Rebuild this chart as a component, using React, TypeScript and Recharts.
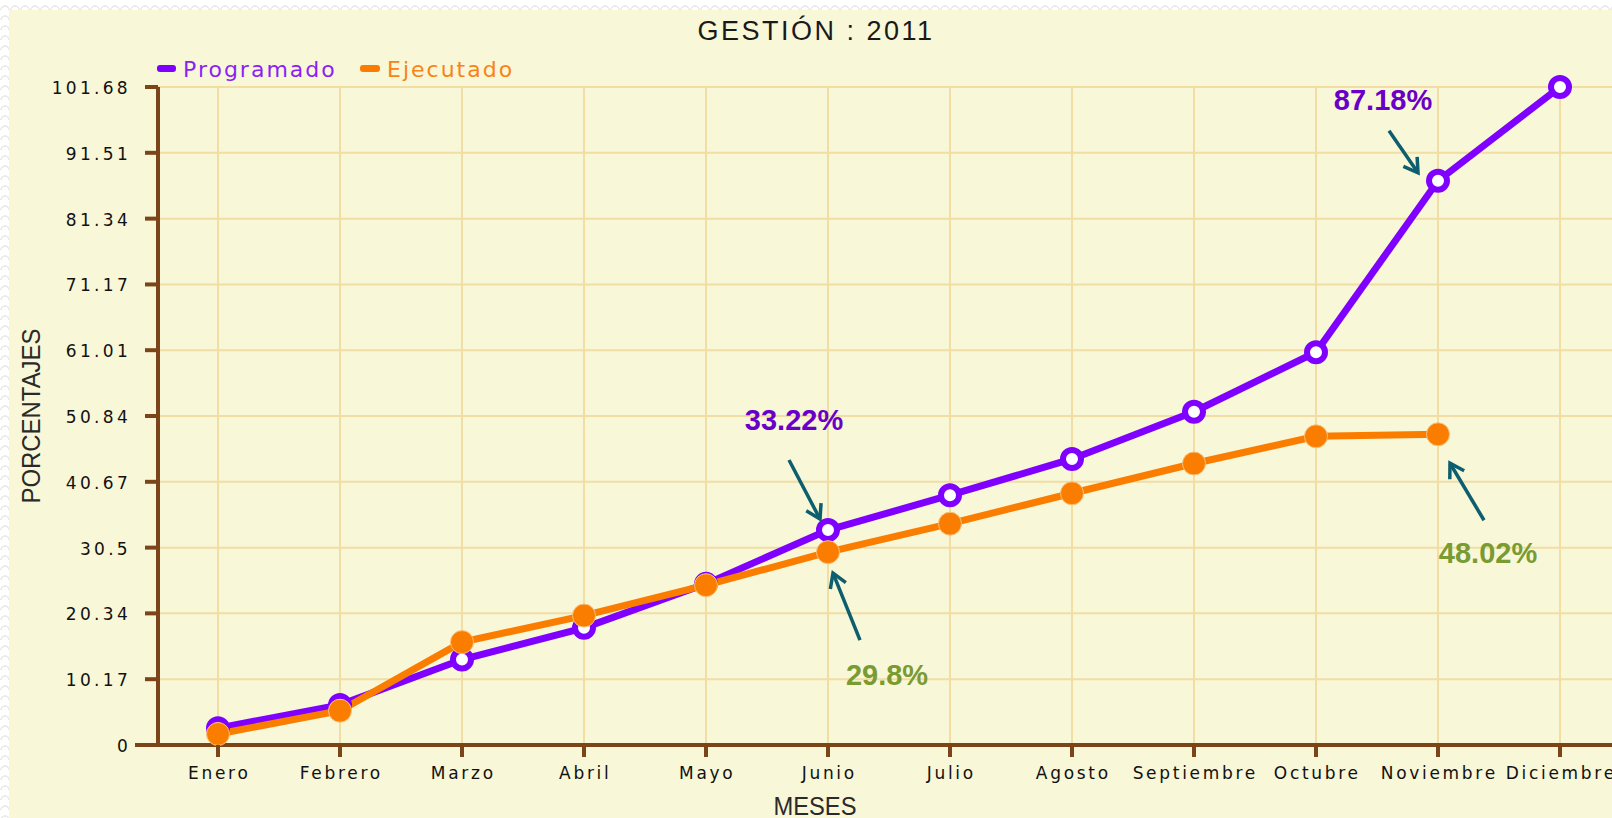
import { CartesianGrid, Line, LineChart, XAxis, YAxis } from "recharts";

const meses = [
  "Enero",
  "Febrero",
  "Marzo",
  "Abril",
  "Mayo",
  "Junio",
  "Julio",
  "Agosto",
  "Septiembre",
  "Octubre",
  "Noviembre",
  "Diciembre",
];
const programado = [2.6, 6.2, 13.2, 18.1, 24.9, 33.22, 38.6, 44.2, 51.5, 60.7, 87.18, 101.68];
const ejecutado = [1.7, 5.3, 15.9, 20.0, 24.7, 29.8, 34.2, 38.9, 43.5, 47.7, 48.02, null];
const yTicks = [0, 10.17, 20.34, 30.5, 40.67, 50.84, 61.01, 71.17, 81.34, 91.51, 101.68];

// callouts: offsets from the data point (text centre + arrow tail/tip)
const callouts = [
  { serie: "programado", mes: "Junio", dx: -34, dy: -110, tail: [-39, -70], tip: [-8, -11] },
  { serie: "programado", mes: "Noviembre", dx: -55, dy: -81, tail: [-49, -50], tip: [-20, -8] },
  { serie: "ejecutado", mes: "Junio", dx: 59, dy: 123, tail: [32, 88], tip: [5, 21] },
  { serie: "ejecutado", mes: "Noviembre", dx: 50, dy: 119, tail: [46, 86], tip: [12, 29] },
];

const data = meses.map((mes, i) => ({ mes, programado: programado[i], ejecutado: ejecutado[i] }));

const PURPLE = "#7F00FF";
const ORANGE = "#FA7D00";
const BROWN = "#7B4519";
const GRID = "#F2DDA4";
const ARROW = "#0D5E6E";
const calloutColor: Record<string, string> = { programado: "#6A00C8", ejecutado: "#7A9A32" };

function Arrow({ x1, y1, x2, y2 }: { x1: number; y1: number; x2: number; y2: number }) {
  const a = Math.atan2(y2 - y1, x2 - x1);
  const len = 16;
  const spread = 0.55;
  const h1 = [x2 - len * Math.cos(a - spread), y2 - len * Math.sin(a - spread)];
  const h2 = [x2 - len * Math.cos(a + spread), y2 - len * Math.sin(a + spread)];
  return (
    <g stroke={ARROW} strokeWidth={3.5} fill="none">
      <line x1={x1} y1={y1} x2={x2} y2={y2} />
      <polyline points={`${h1[0]},${h1[1]} ${x2},${y2} ${h2[0]},${h2[1]}`} />
    </g>
  );
}

function makeDot(serie: "programado" | "ejecutado") {
  return (props: any) => {
    const { cx, cy, index, payload } = props;
    const key = `${serie}-dot-${index}`;
    if (cx == null || cy == null || payload == null || payload[serie] == null) return <g key={key} />;
    const c = callouts.find((o) => o.serie === serie && o.mes === payload.mes);
    return (
      <g key={key}>
        {serie === "programado" ? (
          <circle cx={cx} cy={cy} r={9} fill="#fff" stroke={PURPLE} strokeWidth={6} />
        ) : (
          <circle cx={cx} cy={cy} r={11.5} fill={ORANGE} stroke="#F9C27A" strokeWidth={1} />
        )}
        {c && (
          <g>
            <text
              x={cx + c.dx}
              y={cy + c.dy + 10}
              textAnchor="middle"
              fontFamily="'Liberation Sans', Arial, sans-serif"
              fontWeight="bold"
              fontSize={29}
              fill={calloutColor[serie]}
            >
              {`${payload[serie]}%`}
            </text>
            <Arrow x1={cx + c.tail[0]} y1={cy + c.tail[1]} x2={cx + c.tip[0]} y2={cy + c.tip[1]} />
          </g>
        )}
      </g>
    );
  };
}

function YTick({ x, y, payload }: any) {
  const v = payload.value;
  const start = v === 0 ? x - 23 : x - 13;
  return (
    <g>
      <line x1={start} y1={y} x2={x} y2={y} stroke={BROWN} strokeWidth={4} />
      <text
        x={x - 27}
        y={y + 7}
        textAnchor="end"
        fontFamily="'DejaVu Sans', sans-serif"
        fontSize={17}
        letterSpacing={3.3}
        fill="#111"
      >
        {String(v)}
      </text>
    </g>
  );
}

function XTick({ x, y, payload }: any) {
  return (
    <g>
      <line x1={x} y1={y} x2={x} y2={y + 12} stroke={BROWN} strokeWidth={4} />
      <text
        x={x + 1.3}
        y={y + 34}
        textAnchor="middle"
        fontFamily="'DejaVu Sans', sans-serif"
        fontSize={17}
        letterSpacing={2.7}
        fill="#111"
      >
        {payload.value}
      </text>
    </g>
  );
}

export default function App() {
  return (
    <div
      style={{
        position: "absolute",
        left: 0,
        top: 0,
        width: 1612,
        height: 818,
        overflow: "hidden",
        background:
          "radial-gradient(circle at 50% 100%, transparent 3px, #ebebeb 3.5px, #ebebeb 4.5px, transparent 5px) 0 0 / 10px 10px, #ffffff",
      }}
    >
      <div style={{ position: "absolute", left: 9, top: 10, right: 0, bottom: 0, background: "#F8F7D8" }} />
      <div style={{ position: "absolute", left: 0, top: 0 }}>
        <LineChart width={1621} height={818} data={data} margin={{ top: 87, right: 0, bottom: 0, left: 0 }}>
          <CartesianGrid stroke={GRID} strokeWidth={2} />
          <XAxis
            dataKey="mes"
            height={73}
            interval={0}
            padding={{ left: 60, right: 61 }}
            axisLine={{ stroke: BROWN, strokeWidth: 4 }}
            tickLine={false}
            tickSize={0}
            tickMargin={0}
            tick={XTick}
          />
          <YAxis
            width={158}
            type="number"
            domain={[0, 101.68]}
            ticks={yTicks}
            interval={0}
            axisLine={{ stroke: BROWN, strokeWidth: 4 }}
            tickLine={false}
            tickSize={0}
            tickMargin={0}
            tick={YTick}
          />
          <Line
            dataKey="programado"
            stroke={PURPLE}
            strokeWidth={7}
            dot={makeDot("programado")}
            activeDot={false}
            isAnimationActive={false}
          />
          <Line
            dataKey="ejecutado"
            stroke={ORANGE}
            strokeWidth={7}
            dot={makeDot("ejecutado")}
            activeDot={false}
            connectNulls={false}
            isAnimationActive={false}
          />
        </LineChart>
      </div>
      <svg
        width={1612}
        height={818}
        style={{ position: "absolute", left: 0, top: 0, pointerEvents: "none" }}
      >
        <text
          x={816}
          y={40}
          textAnchor="middle"
          fontFamily="'Liberation Sans', Arial, sans-serif"
          fontSize={27}
          letterSpacing={2.5}
          fill="#1a1a1a"
        >
          GESTIÓN : 2011
        </text>
        <rect x={157} y={65} width={19} height={7} rx={3} fill={PURPLE} />
        <text x={183} y={77} fontFamily="'DejaVu Sans', sans-serif" fontSize={22} letterSpacing={2} fill="#8B1FF5">
          Programado
        </text>
        <rect x={360} y={65} width={20} height={7} rx={3} fill={ORANGE} />
        <text x={387} y={77} fontFamily="'DejaVu Sans', sans-serif" fontSize={22} letterSpacing={2} fill="#F98316">
          Ejecutado
        </text>
        <text
          x={40}
          y={416}
          transform="rotate(-90, 40, 416)"
          textAnchor="middle"
          fontFamily="'Liberation Sans', Arial, sans-serif"
          fontSize={25}
          textLength={175}
          lengthAdjust="spacingAndGlyphs"
          fill="#2a2a2a"
        >
          PORCENTAJES
        </text>
        <text
          x={815}
          y={815}
          textAnchor="middle"
          fontFamily="'Liberation Sans', Arial, sans-serif"
          fontSize={25}
          textLength={83}
          lengthAdjust="spacingAndGlyphs"
          fill="#2a2a2a"
        >
          MESES
        </text>
      </svg>
    </div>
  );
}
